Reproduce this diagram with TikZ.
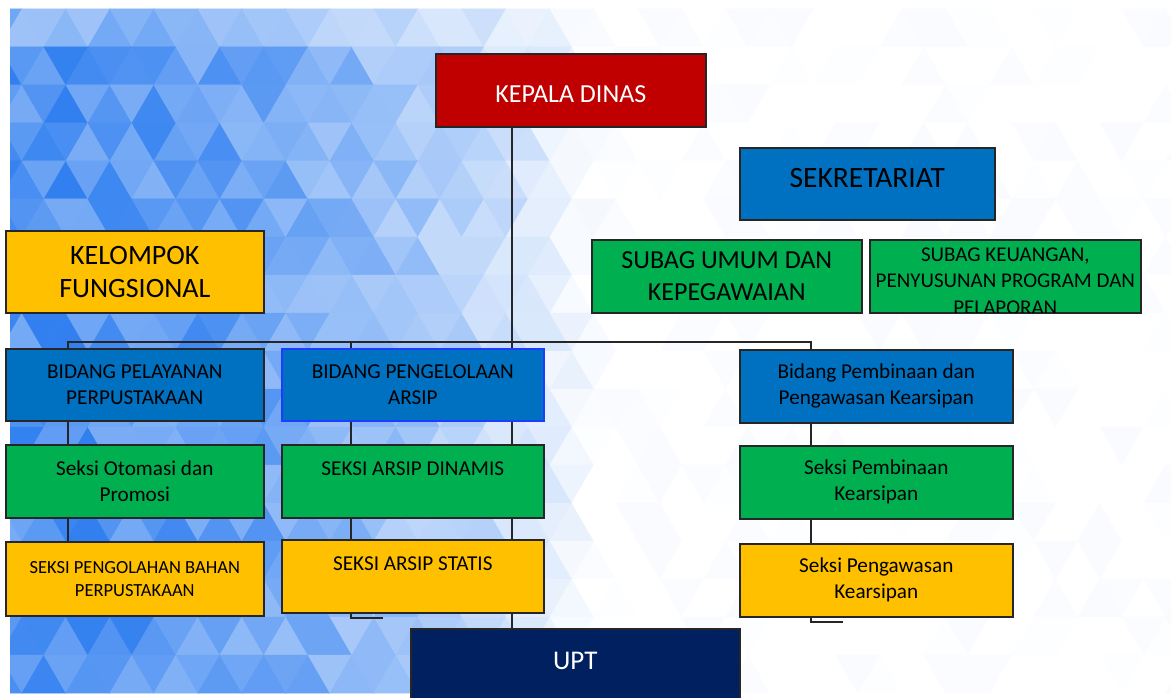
\documentclass[tikz,border=0pt]{standalone}
\usepackage{fontspec}
\setmainfont{Carlito}
\usepackage{tikz}

\definecolor{kepred}{RGB}{192,0,0}
\definecolor{secblue}{RGB}{0,112,192}
\definecolor{subgreen}{RGB}{0,176,80}
\definecolor{seksiyellow}{RGB}{255,192,0}
\definecolor{uptnavy}{RGB}{0,32,96}
\definecolor{edgeblue}{RGB}{30,60,255}
\definecolor{bgblue}{RGB}{50,128,240}

\pgfdeclarelayer{pattern}
\pgfdeclarelayer{wires}
\pgfsetlayers{pattern,wires,main}

\tikzset{
  unit/.style={draw=black!85, line width=1.6pt, anchor=north west, align=center, inner sep=2pt},
  redbox/.style={unit, fill=kepred, text=white},
  bluebox/.style={unit, fill=secblue},
  greenbox/.style={unit, fill=subgreen},
  yellowbox/.style={unit, fill=seksiyellow},
  navybox/.style={unit, fill=uptnavy, text=white},
  bigfont/.style={font=\fontsize{26}{32}\selectfont},
  midfont/.style={font=\fontsize{21.2}{26}\selectfont},
  wire/.style={draw=black!85, line width=1.4pt},
}

\begin{document}
\begin{tikzpicture}[x=1pt, y=-1pt]
  \useasboundingbox (0,0) rectangle (1171,698);

  % triangle background
  \pgfmathsetseed{7}
  \begin{pgfonlayer}{pattern}
    \begin{scope}
      \clip (10,9) rectangle (1171,693);
      \foreach \r in {0,...,17}{
        \foreach \k in {0,...,54}{
          \pgfmathsetmacro\tx{22*\k}
          \pgfmathsetmacro\ty{9+38*\r}
          \pgfmathsetmacro\bl{max(0,0.85*(1-(\tx/600)^2))*(1-0.3*(\ty<40))}
          \pgfmathtruncatemacro\tone{max(0,min(100,100*\bl+(rnd-0.5)*(8+35*\bl)))}
          \pgfmathtruncatemacro\flip{mod(\k+\r,2)}
          \ifnum\flip=0
            \fill[bgblue!\tone!white, draw=bgblue!\tone!white, line width=.5pt]
              (\tx-22,\ty) -- (\tx+22,\ty) -- (\tx,\ty+38) -- cycle;
          \else
            \fill[bgblue!\tone!white, draw=bgblue!\tone!white, line width=.5pt]
              (\tx-22,\ty+38) -- (\tx+22,\ty+38) -- (\tx,\ty) -- cycle;
          \fi
        }
      }
    \end{scope}
  \end{pgfonlayer}

  % top
  \node[redbox, bigfont, minimum width=270, minimum height=73, text height=25pt] (kepala) at (435,53) {KEPALA DINAS};
  \node[bluebox, font=\fontsize{29.5}{34}\selectfont, minimum width=255, minimum height=72, text depth=12pt] (sekre) at (739,147) {SEKRETARIAT};
  \node[greenbox, bigfont, minimum width=270, minimum height=73] (umum) at (591,239) {SUBAG UMUM DAN\\KEPEGAWAIAN};
  \node[greenbox, minimum width=271, minimum height=73] (keu) at (869,239) {};
  \begin{scope}
    \clip ([xshift=.8pt,yshift=.8pt]keu.south west) rectangle ([xshift=-.8pt,yshift=-.8pt]keu.north east);
    \node[align=center, inner sep=0pt, font=\fontsize{21}{26.5}\selectfont] (keutext) at ([yshift=-4.5pt]keu.center) {SUBAG KEUANGAN,\\PENYUSUNAN PROGRAM DAN\\PELAPORAN};
  \end{scope}
  \node[yellowbox, font=\fontsize{28}{33}\selectfont, minimum width=258, minimum height=82] (kelompok) at (5,230) {KELOMPOK\\FUNGSIONAL};

  % bidang
  \node[bluebox, midfont, minimum width=258, minimum height=72] (bpel) at (5,348) {BIDANG PELAYANAN\\PERPUSTAKAAN};
  \node[bluebox, midfont, draw=edgeblue, minimum width=262, minimum height=72] (bars) at (281,348) {BIDANG PENGELOLAAN\\ARSIP};
  \node[bluebox, midfont, minimum width=273, minimum height=73] (bbin) at (739,349) {Bidang Pembinaan dan\\Pengawasan Kearsipan};

  % seksi
  \node[greenbox, midfont, minimum width=258, minimum height=73] (sotom) at (5,444) {Seksi Otomasi dan\\Promosi};
  \node[greenbox, midfont, minimum width=262, minimum height=73] (sdin) at (281,444) {SEKSI ARSIP DINAMIS\\\mbox{}};
  \node[greenbox, midfont, minimum width=273, minimum height=73] (sbin) at (739,445) {Seksi Pembinaan\\Kearsipan};
  \node[yellowbox, font=\fontsize{18.5}{23}\selectfont, minimum width=258, minimum height=74] (sbahan) at (5,541) {SEKSI PENGOLAHAN BAHAN\\PERPUSTAKAAN};
  \node[yellowbox, midfont, minimum width=262, minimum height=73] (sstat) at (281,539) {SEKSI ARSIP STATIS\\\mbox{}};
  \node[yellowbox, midfont, minimum width=273, minimum height=73] (speng) at (739,543) {Seksi Pengawasan\\Kearsipan};

  \node[navybox, font=\fontsize{27}{32}\selectfont, minimum width=329, minimum height=80, text depth=16pt] (upt) at (410,628) {UPT};

  % connectors
  \coordinate (hub) at (512,342);
  \coordinate (busL) at (68,342);
  \coordinate (busR) at (811,342);
  \coordinate (colM) at (351,342);
  \coordinate (hookM) at (383,618);
  \coordinate (hookR) at (843,622);
  \begin{pgfonlayer}{wires}
    \draw[wire] (kepala.south -| hub) -- (upt.north -| hub);
    \draw[wire] (bpel.north -| busL) -- (busL) -- (busR) -- (bbin.north -| busR);
    \draw[wire] (busL) -- (sbahan.north -| busL);
    \draw[wire] (colM) |- (hookM);
    \draw[wire] (busR) |- (hookR);
  \end{pgfonlayer}
\end{tikzpicture}
\end{document}
